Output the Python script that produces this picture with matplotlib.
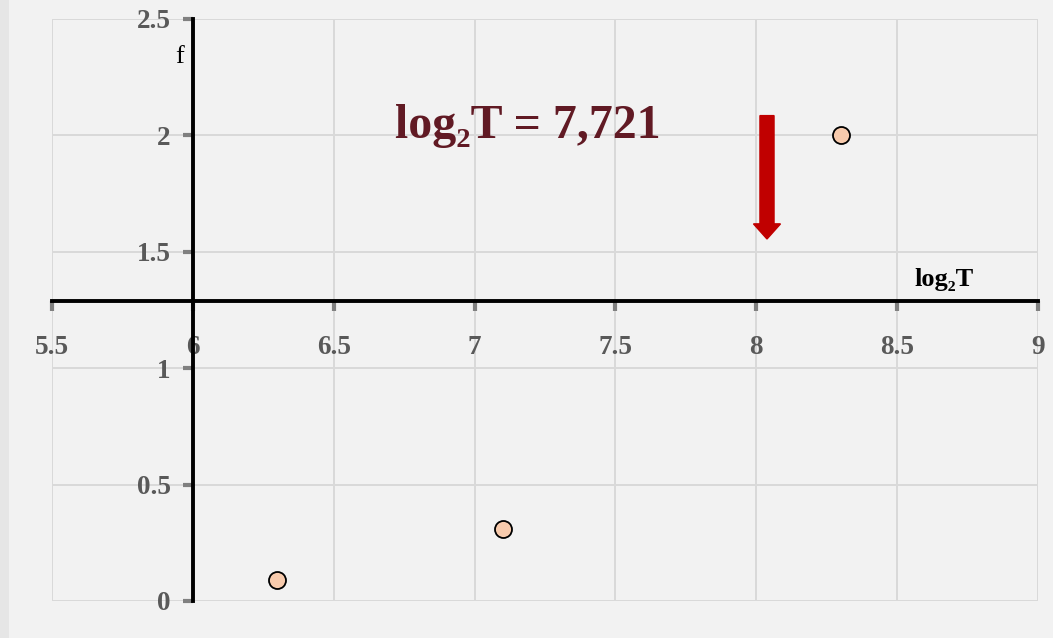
import matplotlib.pyplot as plt
from matplotlib.patches import Rectangle

# data
log2T = [6.3, 7.1, 8.3]
f_vals = [0.09, 0.31, 2.0]
x_ticks = [5.5, 6, 6.5, 7, 7.5, 8, 8.5, 9]
x_labels = ['5.5', '6', '6.5', '7', '7.5', '8', '8.5', '9']
y_ticks = [0, 0.5, 1, 1.5, 2, 2.5]
y_labels = ['0', '0.5', '1', '1.5', '2', '2.5']
result = 7.721

plt.rcParams['font.family'] = ['Liberation Serif', 'DejaVu Serif']

fig = plt.figure(figsize=(10.53, 6.38), dpi=100, facecolor='#f2f2f2')
fig.patches.append(Rectangle((0, 0), 9 / 1053, 1, transform=fig.transFigure,
                             facecolor='#e6e6e6', edgecolor='none', zorder=0))
ax = fig.add_axes([52 / 1053, 1 - 601 / 638, 986 / 1053, 582 / 638])
ax.set_facecolor('#f2f2f2')

ax.set_xlim(5.5, 9)
ax.set_ylim(0, 2.5)
ax.grid(True, color='#d9d9d9', linewidth=1.4, zorder=0)
ax.set_axisbelow(True)

for s in ['top', 'right']:
    ax.spines[s].set_visible(False)
ax.spines['left'].set_position(('data', 6))
ax.spines['bottom'].set_position(('data', 1.287))
ax.spines['left'].set_linewidth(2.8)
ax.spines['bottom'].set_linewidth(2.8)
ax.spines['left'].set_zorder(3)
ax.spines['bottom'].set_zorder(3)

ax.set_xticks(x_ticks)
ax.set_xticklabels(x_labels)
ax.set_yticks(y_ticks)
ax.set_yticklabels(y_labels)
ax.tick_params(axis='both', direction='out', length=7, width=3, color='#808080',
               labelcolor='#595959', labelsize=19.5)
ax.tick_params(axis='x', pad=17)
ax.tick_params(axis='y', pad=9)
for lab in ax.get_xticklabels() + ax.get_yticklabels():
    lab.set_fontweight('bold')

ax.scatter(log2T, f_vals, s=150, facecolor='#f8cbad', edgecolor='black',
           linewidth=1.3, zorder=5, clip_on=False)

ax.arrow(8.038, 2.085, 0, -0.53, width=0.05, head_width=0.096,
         head_length=0.065, length_includes_head=True, color='#c00000',
         zorder=4)

ax.text(6.718, 1.99, 'log\u2082T = ' + str(result).replace('.', ','),
        fontsize=34.5, fontweight='bold', color='#611a24', ha='left', va='baseline')
ax.text(8.563, 1.355, 'log\u2082T', fontsize=19, fontweight='bold', color='black',
        ha='left', va='baseline')
ax.text(5.954, 2.31, 'f', fontsize=19, color='black', ha='center', va='baseline')

plt.savefig('out.png', dpi=100, facecolor=fig.get_facecolor())
